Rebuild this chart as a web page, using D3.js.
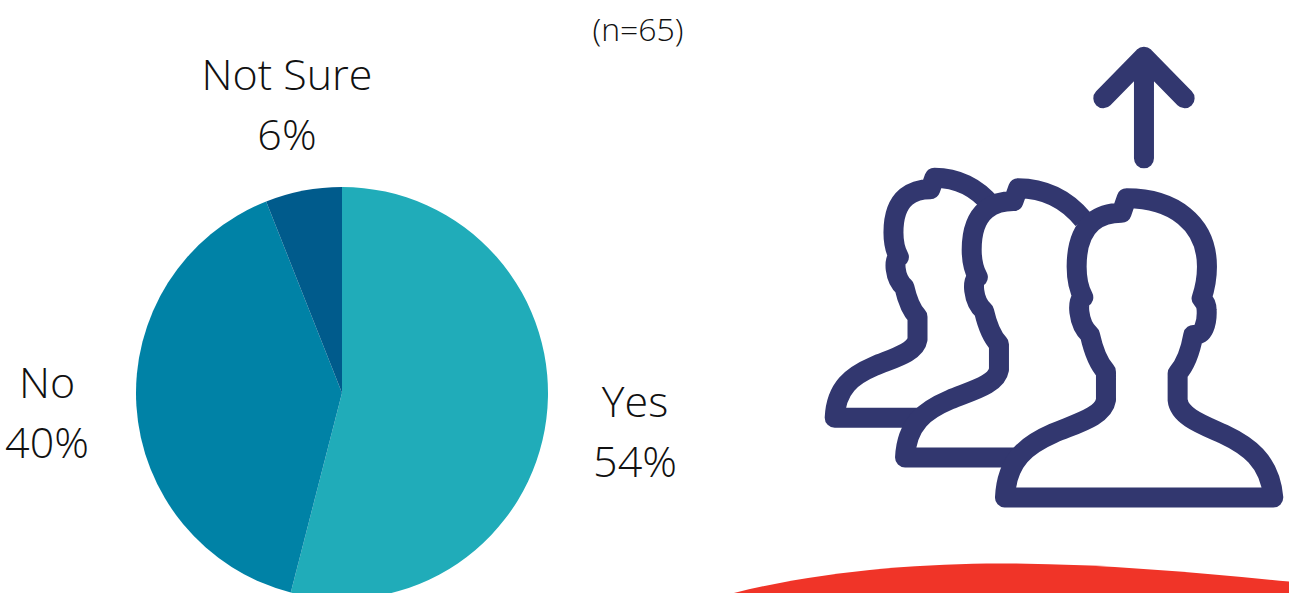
<!DOCTYPE html>
<html>
<head>
<meta charset="utf-8">
<script src="https://cdn.jsdelivr.net/npm/d3@7"></script>
<style>
html, body { margin: 0; padding: 0; background: #fff; overflow: hidden; }
svg { display: block; }
text { font-family: "Open Sans", sans-serif; font-weight: 300; fill: #111; }
</style>
</head>
<body>
<script>
// chart values
var categories = ["Yes", "No", "Not Sure"];
var percents = [54, 40, 6];
var sliceColors = ["#20acb9", "#0082a6", "#005b8c"];
var sampleNote = "(n=65)";

var width = 1289;
var height = 593;

// label centres, same order as categories
var labelX = [635, 47, 287];
var labelY = [417, 398, 90];

var svg = d3.select("body").append("svg")
  .attr("width", width)
  .attr("height", height);

// red shape at the bottom
svg.append("path")
  .attr("d", "M730,594 C820,571 920,563.5 1000,563.5 C1100,563.5 1200,573 1289,581.5 L1289,594 Z")
  .attr("fill", "#f03428");

// pie
var pie = d3.pie().sort(null).value(function(d){ return d; });
var arc = d3.arc().innerRadius(0).outerRadius(206);

var plot = svg.append("g")
  .attr("transform", "translate(342,393)");

plot.selectAll("path")
  .data(pie(percents))
  .enter()
  .append("path")
  .attr("d", arc)
  .attr("fill", function(d,i){ return sliceColors[i]; });

// labels
var labels = svg.selectAll(".label")
  .data(categories)
  .enter()
  .append("text")
  .classed("label", true)
  .attr("text-anchor", "middle")
  .attr("font-size", 43);

labels.append("tspan")
  .attr("x", function(d,i){ return labelX[i]; })
  .attr("y", function(d,i){ return labelY[i]; })
  .text(function(d){ return d; });

labels.append("tspan")
  .attr("x", function(d,i){ return labelX[i]; })
  .attr("y", function(d,i){ return labelY[i] + 60; })
  .text(function(d,i){ return percents[i] + "%"; });

svg.append("text")
  .attr("x", 638)
  .attr("y", 41)
  .attr("text-anchor", "middle")
  .attr("font-size", 32)
  .text(sampleNote);

// people icon, drawn in 3x units from the top left of the icon box
// outline of the front person, closed
var person = "M555,1403 L1360,1403 C1350,1290 1280,1245 1210,1212 C1150,1185 1078,1160 1073,1110 L1073,1030 " +
  "C1095,1005 1112,960 1120,915 C1150,920 1162,880 1160,840 C1160,825 1152,812 1145,805 " +
  "C1155,775 1161,745 1161,710 C1161,580 1060,505 920,505 L905,548 C850,548 770,570 770,710 " +
  "C770,745 778,780 790,802 C770,805 772,880 810,915 C820,960 835,1000 858,1025 L858,1110 " +
  "C850,1160 770,1180 700,1210 C620,1245 560,1290 555,1403 Z";

// the ones behind only show their left side, the ends go under the next person
var personBack = "L555,1403 C560,1290 620,1245 700,1210 C770,1180 850,1160 858,1110 L858,1025 " +
  "C835,1000 820,960 810,915 C772,880 770,805 790,802 C778,780 770,745 770,710 " +
  "C770,570 850,548 905,548 L920,505 C1000,505 1075,540 1130,610";

var icon = svg.append("g")
  .attr("transform", "translate(820,30) scale(0.3333)");

var people = [
  {d: "M880,1403 " + personBack, tx: -411, ty: 38, sx: 0.82, sy: 0.802},
  {d: "M915,1403 " + personBack, tx: -261, ty: 20, sx: 0.93, sy: 0.9},
  {d: person, tx: 0, ty: 0, sx: 1, sy: 1}
];

icon.selectAll(".person")
  .data(people)
  .enter()
  .append("path")
  .classed("person", true)
  .attr("d", function(d){ return d.d; })
  .attr("transform", function(d){ return "translate(" + d.tx + "," + d.ty + ") scale(" + d.sx + "," + d.sy + ")"; })
  .attr("fill", "none")
  .attr("stroke", "#32376f")
  .attr("stroke-width", 20)
  .attr("vector-effect", "non-scaling-stroke")
  .attr("stroke-linejoin", "round");

// arrow
icon.append("path")
  .attr("d", "M972,385 L972,80 M850,205 L972,80 L1094,205")
  .attr("fill", "none")
  .attr("stroke", "#32376f")
  .attr("stroke-width", 60)
  .attr("stroke-linecap", "round")
  .attr("stroke-linejoin", "round");
</script>
</body>
</html>
